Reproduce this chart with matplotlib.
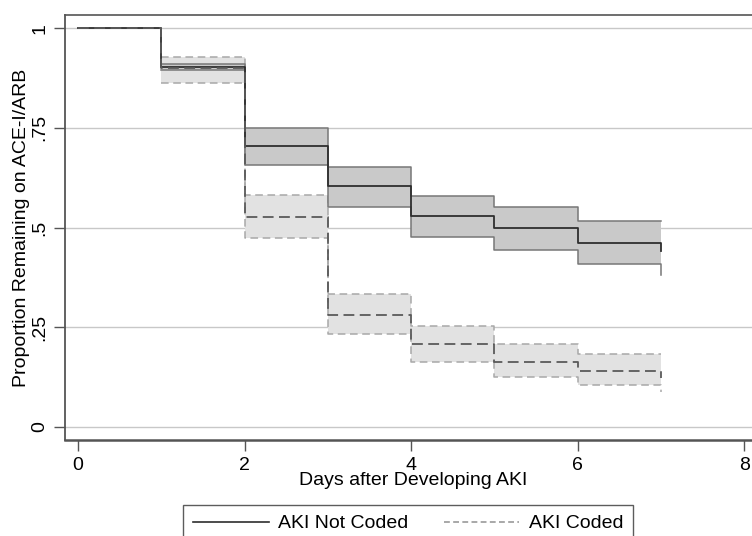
import numpy as np
import matplotlib.pyplot as plt
from matplotlib.lines import Line2D

plt.rcParams['font.family'] = ['Liberation Sans', 'DejaVu Sans']

# Kaplan-Meier style estimates (value on [t_i, t_i+1), last = value at day 7)
days = [0, 1, 2, 3, 4, 5, 6, 7]

not_coded = [1.0, 0.902, 0.704, 0.605, 0.530, 0.498, 0.460, 0.440]
not_coded_hi = [1.0, 0.910, 0.749, 0.652, 0.580, 0.551, 0.517, 0.517]
not_coded_lo = [1.0, 0.894, 0.657, 0.552, 0.477, 0.444, 0.408, 0.380]

coded = [1.0, 0.900, 0.526, 0.281, 0.207, 0.164, 0.139, 0.123]
coded_hi = [1.0, 0.927, 0.581, 0.333, 0.254, 0.208, 0.183, 0.183]
coded_lo = [1.0, 0.862, 0.473, 0.232, 0.162, 0.125, 0.104, 0.088]

y_ticks = [0, 0.25, 0.5, 0.75, 1]
y_labels = ['0', '.25', '.5', '.75', '1']
x_ticks = [0, 2, 4, 6, 8]

fs = 14

fig = plt.figure(figsize=(7.52, 5.36), dpi=100)
ax = fig.add_axes([0.0864, 0.179, 0.9255, 0.793])

for y in y_ticks:
    ax.axhline(y, color='#c8c8c8', lw=1.0, zorder=0)

# confidence bands (drawn from day 1 onward)
ax.fill_between(days[1:], coded_lo[1:], coded_hi[1:], step='post', color='#e2e2e2', lw=0, zorder=1)
ax.step(days[1:], coded_hi[1:], where='post', color='#a8a8a8', ls=(0, (5, 3)), lw=1.1, zorder=2)
ax.step(days[1:], coded_lo[1:], where='post', color='#a8a8a8', ls=(0, (5, 3)), lw=1.1, zorder=2)

ax.fill_between(days[1:], not_coded_lo[1:], not_coded_hi[1:], step='post', color='#c9c9c9', lw=0, zorder=3)
ax.step(days[1:], not_coded_hi[1:], where='post', color='#777777', lw=1.1, zorder=4)
ax.step(days[1:], not_coded_lo[1:], where='post', color='#777777', lw=1.1, zorder=4)

ax.step(days, not_coded, where='post', color='#2e2e2e', lw=1.3, zorder=5)
ax.step(days, coded, where='post', color='#5a5a5a', ls=(0, (6, 3)), lw=1.3, zorder=6)

ax.set_xlim(-0.156, 8.2)
ax.set_ylim(-0.033, 1.033)
ax.set_xticks(x_ticks)
ax.set_yticks(y_ticks)
ax.set_yticklabels(y_labels, rotation=90, va='center')
ax.tick_params(axis='both', length=8, width=1, color='#555555', labelsize=fs, direction='out')
ax.tick_params(axis='y', pad=4)
ax.tick_params(axis='x', pad=4)

for side in ['left', 'top', 'bottom']:
    ax.spines[side].set_color('#555555')
ax.spines['left'].set_linewidth(1.3)
ax.spines['bottom'].set_linewidth(1.8)
ax.spines['top'].set_linewidth(1.2)
ax.spines['right'].set_visible(False)

ax.set_xlabel('Days after Developing AKI', fontsize=fs, labelpad=-1)
ax.set_ylabel('Proportion Remaining on ACE-I/ARB', fontsize=fs, labelpad=1)

handles = [Line2D([], [], color='#2e2e2e', lw=1.2),
           Line2D([], [], color='#9a9a9a', lw=1.2, ls=(0, (3.5, 2)))]
leg = fig.legend(handles, ['AKI Not Coded', 'AKI Coded'], loc='upper left',
                 bbox_to_anchor=(183 / 752, 1 - 505 / 536), ncol=2, fontsize=fs,
                 frameon=True, fancybox=False, edgecolor='#333333', handlelength=3.9,
                 columnspacing=1.8, borderpad=0.5, handletextpad=0.5, borderaxespad=0)
leg.get_frame().set_linewidth(1.0)

fig.savefig('out.png', dpi=100)
